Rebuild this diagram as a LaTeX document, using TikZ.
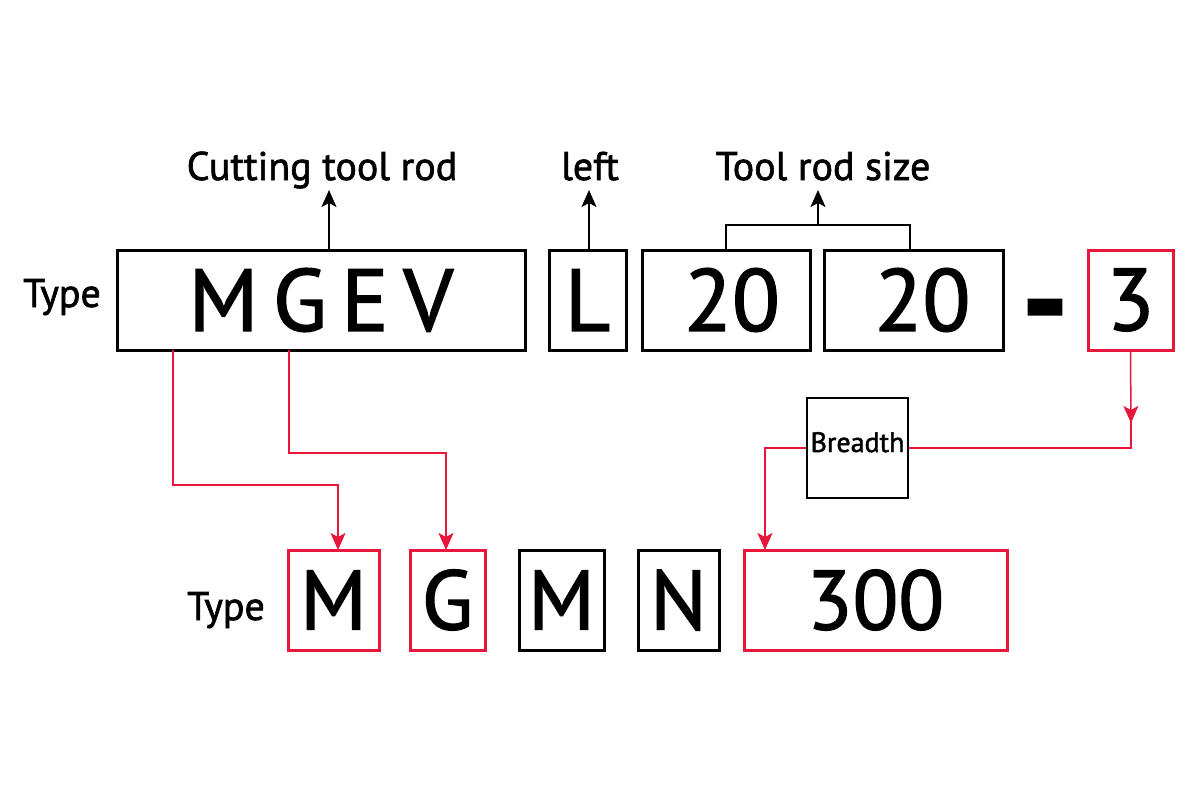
\documentclass[tikz,border=0pt]{standalone}
\usepackage{fontspec}
\setmainfont{PT Sans}[FakeBold=1.6]
\usetikzlibrary{arrows.meta,positioning,calc}
\definecolor{codered}{RGB}{232,22,58}

\begin{document}
\begin{tikzpicture}[x=1pt, y=-1pt, line join=miter,
    >={Stealth[length=17pt, width=15pt, inset=4pt]},
    box/.style={draw=black, line width=3pt, inner sep=0pt, minimum height=100pt},
    redbox/.style={box, draw=codered},
    big/.style={font=\fontsize{88}{88}\selectfont},
    mid/.style={font=\fontsize{84}{84}\selectfont},
    lbl/.style={font=\fontsize{40}{40}\selectfont, anchor=base},
    blk/.style={line width=1.5pt, ->},
    redline/.style={codered, line width=1.5pt}]
    % page frame
    \useasboundingbox (0,0) rectangle (1200,800);

    % top code row
    \node[lbl, anchor=base] (type1) at (62,307) {Type};
    \node[box, big, minimum width=408pt] (mgev) at (321,300) {M\,G\,E\,V};
    \node[box, big, minimum width=77pt] (l) at (587.5,300) {L};
    \node[box, big, minimum width=168pt] (size1) at (726,300) {\hspace{12pt}20};
    \node[box, big, minimum width=179pt] (size2) at (913.5,300) {\hspace{18pt}20};
    \node[font=\fontsize{130}{130}\selectfont\bfseries, inner sep=0pt] (dash) at (1045,322) {-};
    \node[redbox, big, minimum width=85pt] (three) at (1130.5,300) {3};

    % labels above
    \node[lbl] (cut) at (322,180) {Cutting tool rod};
    \node[lbl] (left) at (590,180) {left};
    \node[lbl] (rodsize) at (823,180) {Tool rod size};
    \coordinate (cuttip) at (329,190);
    \coordinate (lefttip) at (589,190);
    \coordinate (sizetip) at (818,190);

    \draw[blk] (cuttip |- mgev.north) -- (cuttip);
    \draw[blk] (lefttip |- l.north) -- (lefttip);
    \draw[line width=1.5pt] (726,250) |- (910,225) -- (910,250);
    \draw[blk] (818,225) -- (sizetip);

    % bottom code row
    \node[lbl, anchor=base] (type2) at (226,620) {Type};
    \node[redbox, mid, minimum width=91pt] (m1) at (333.5,600) {M};
    \node[redbox, mid, minimum width=75pt] (g1) at (447.5,600) {G};
    \node[box, mid, minimum width=85pt] (m2) at (561.5,600) {M};
    \node[box, mid, minimum width=81pt] (n1) at (678.5,600) {N};
    \node[redbox, mid, minimum width=263pt] (len) at (875.5,600) {300};

    % breadth box
    \node[box, line width=2.5pt, minimum width=101pt] (breadth) at (857.5,448) {};
    \node[font=\fontsize{28}{28}\selectfont, inner sep=0pt, anchor=base] at (857.5,452) {Breadth};

    % red connectors
    \draw[redline, ->] (173,350) |- (338,485) -- (338,550);
    \draw[redline, ->] (289,350) |- (446,453) -- (446,550);
    \draw[redline, ->] (three.south) -- (1131,423);
    \draw[redline] (1131,420) |- (breadth.east);
    \draw[redline, ->] (breadth.west) -| (765,550);
\end{tikzpicture}
\end{document}
